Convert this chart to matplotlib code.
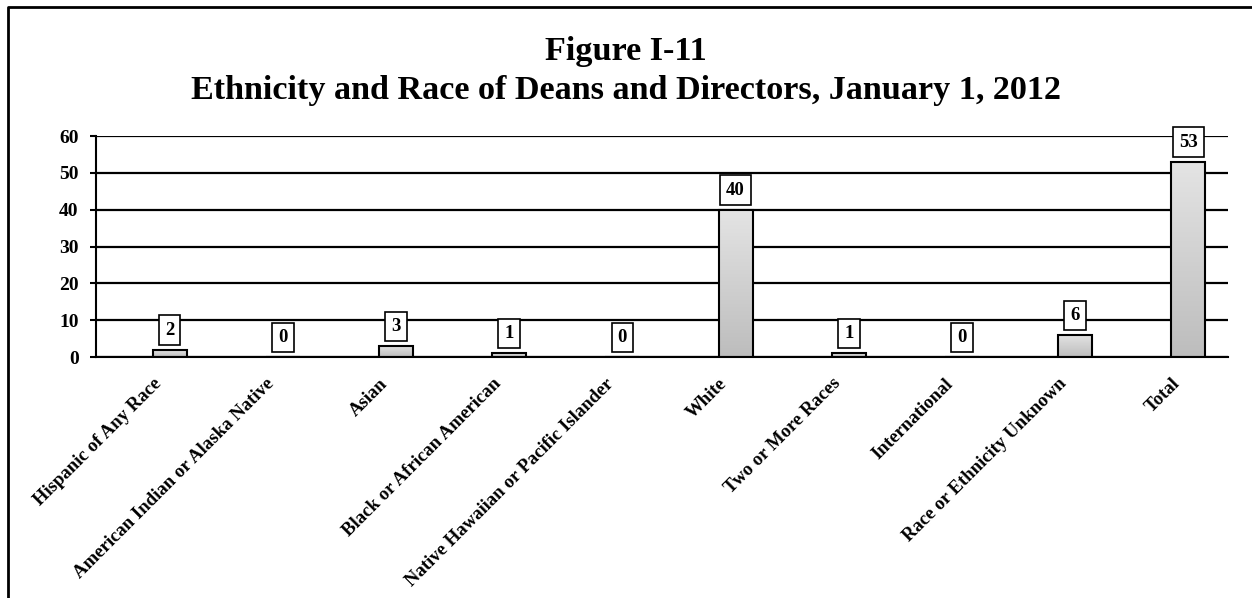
import numpy as np
import matplotlib
matplotlib.use("Agg")
from matplotlib import pyplot as plt
from matplotlib.lines import Line2D

plt.rcParams['font.family'] = ['Liberation Serif', 'DejaVu Serif']
plt.rcParams['font.weight'] = 'bold'

# data
categories = ["Hispanic of Any Race", "American Indian or Alaska Native", "Asian",
              "Black or African American", "Native Hawaiian or Pacific Islander",
              "White", "Two or More Races", "International",
              "Race or Ethnicity Unknown", "Total"]
counts = [2, 0, 3, 1, 0, 40, 1, 0, 6, 53]
y_ticks = [0, 10, 20, 30, 40, 50, 60]

fig = plt.figure(figsize=(12.52, 5.98), dpi=100)
ax = fig.add_axes([96 / 1252, 1 - 357 / 598, (1228 - 96) / 1252, (357 - 136) / 598])

x = np.arange(len(categories))
bar_w = 0.30
bars = ax.bar(x, counts, width=bar_w, align='edge', facecolor='none',
              edgecolor='black', linewidth=1.5, zorder=3)

# gray gradient inside each bar (light top, darker bottom)
grad = np.linspace(0, 1, 100).reshape(-1, 1)
cmap = matplotlib.colors.LinearSegmentedColormap.from_list('g', ['#bdbdbd', '#e4e4e4'])
for b in bars:
    h = b.get_height()
    if h <= 0:
        continue
    x0 = b.get_x()
    im = ax.imshow(grad, extent=[x0, x0 + bar_w, 0, h], origin='lower',
                   cmap=cmap, aspect='auto', zorder=2)
    im.set_clip_path(b)

# value labels in boxes
for b, v in zip(bars, counts):
    ax.annotate(str(v), xy=(b.get_x() + bar_w / 2, v), xytext=(0, 8),
                textcoords='offset points', ha='center', va='bottom',
                fontsize=13.5, fontweight='bold', zorder=5,
                bbox=dict(boxstyle='square,pad=0.33', fc='white', ec='black', lw=1.2))

ax.set_xlim(-0.5, len(categories) - 0.5)
ax.set_ylim(0, 60)
ax.set_yticks(y_ticks)
ax.set_yticklabels([str(t) for t in y_ticks], fontsize=14, fontweight='bold')
ax.yaxis.grid(True, color='black', linewidth=1.6)
ax.set_axisbelow(True)
ax.tick_params(axis='y', length=4.5, width=1.5, pad=8)

ax.set_xticks(x)
ax.set_xticklabels(categories, rotation=45, ha='right', va='top',
                   rotation_mode='anchor', fontsize=13.5, fontweight='bold')
ax.tick_params(axis='x', length=0, pad=13)
for lbl in ax.get_xticklabels():
    lbl.set_x(lbl.get_position()[0])

for s in ['top', 'right']:
    ax.spines[s].set_visible(False)
ax.spines['left'].set_linewidth(1.5)
ax.spines['bottom'].set_linewidth(1.5)

fig.text(0.5, 1 - 36 / 598, "Figure I-11\nEthnicity and Race of Deans and Directors, January 1, 2012",
         ha='center', va='top', fontsize=24.6, fontweight='bold', linespacing=1.33)

# outer frame (left and top edges visible)
fig.add_artist(Line2D([8 / 1252, 8 / 1252, 1], [0, 1 - 7 / 598, 1 - 7 / 598],
                      transform=fig.transFigure, color='black', linewidth=2))

fig.savefig("out.png", dpi=100, facecolor='white')
